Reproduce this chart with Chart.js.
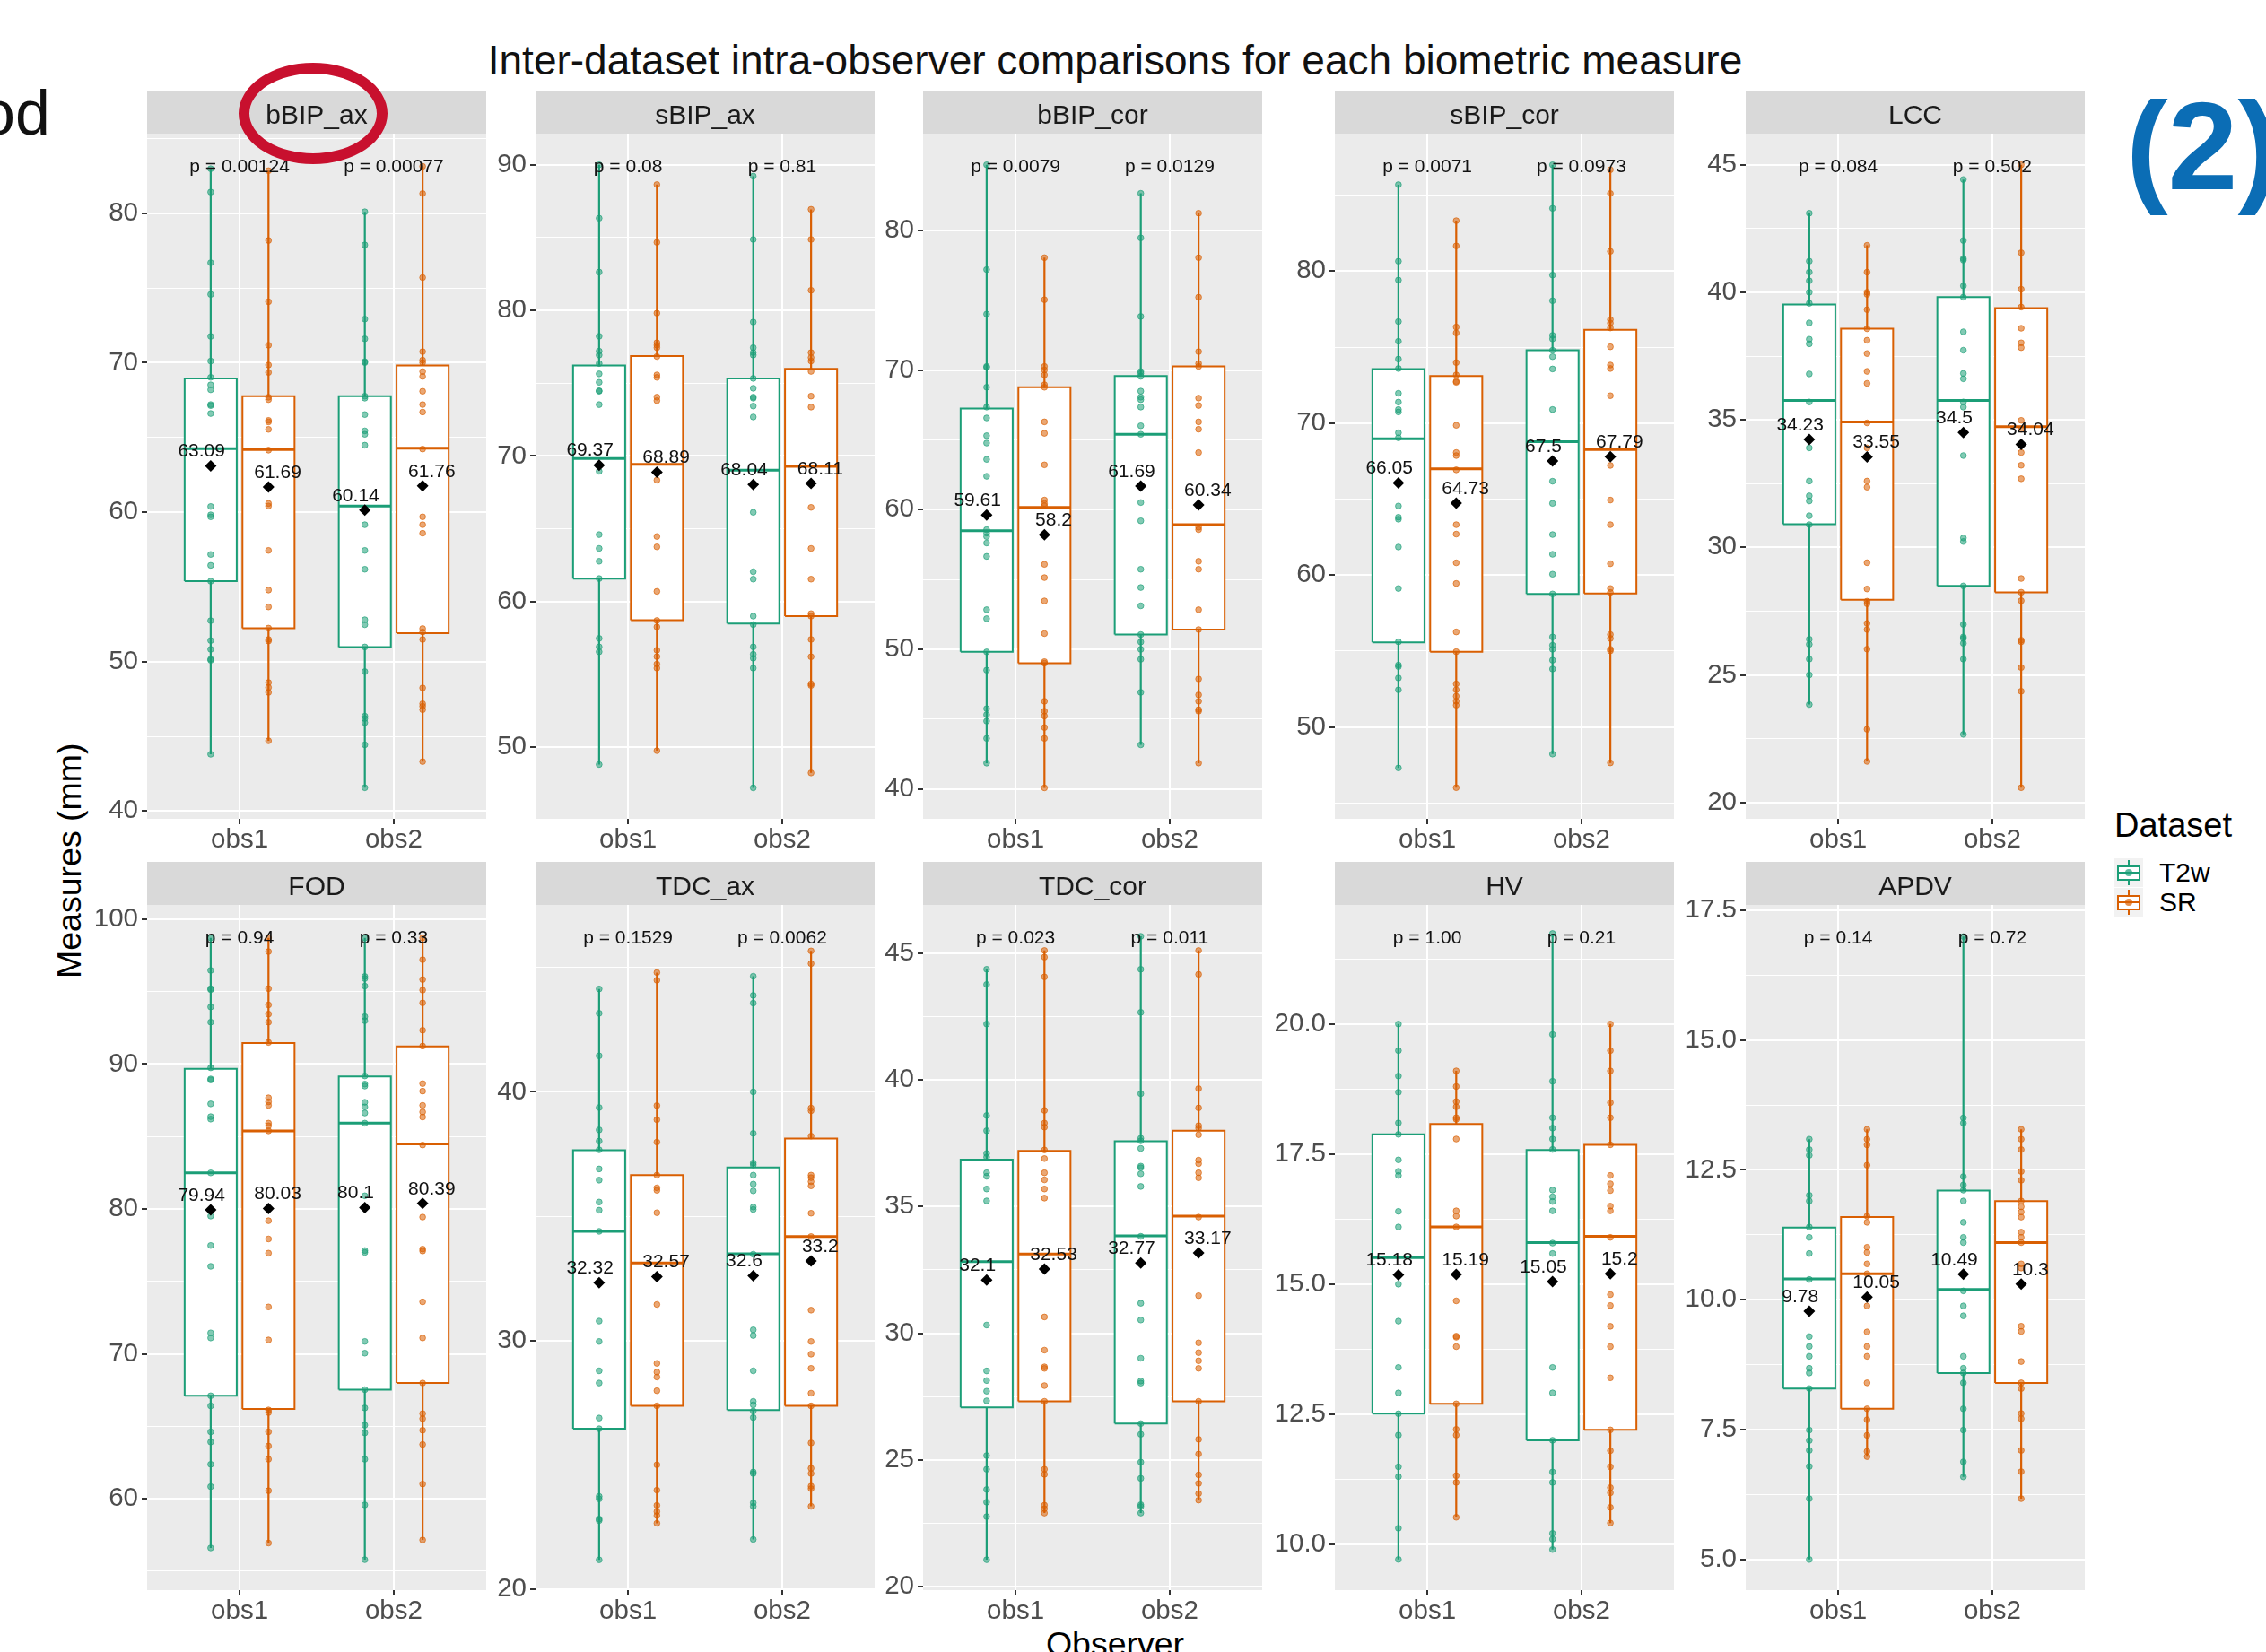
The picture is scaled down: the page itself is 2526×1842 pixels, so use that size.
<!DOCTYPE html>
<html>
<head>
<meta charset="utf-8">
<title>Inter-dataset intra-observer comparisons</title>
<script src="https://cdn.jsdelivr.net/npm/chart.js@4.4.1/dist/chart.umd.min.js"></script>
<style>
  html, body { margin:0; padding:0; background:#ffffff; }
  body { position:relative; width:2526px; height:1842px; overflow:hidden; font-family:"Liberation Sans", Arial, sans-serif; }
  .txt { position:absolute; white-space:nowrap; line-height:1; color:#000; }
  .box { position:absolute; box-sizing:border-box; }
  canvas { position:absolute; }
</style>
</head>
<body>

<div class="txt" style="left:-22px;top:91px;font-size:70px;color:#111;">od</div>
<div class="txt" style="left:243px;top:44px;width:2000px;text-align:center;font-size:46px;color:#111;">Inter-dataset intra-observer comparisons for each biometric measure</div>
<div class="txt" style="left:2370px;top:93px;font-size:140px;font-weight:bold;color:#0B6DB5;">(2)</div>
<div class="txt" style="left:-122px;top:941px;width:400px;text-align:center;font-size:37.5px;transform:rotate(-90deg);">Measures (mm)</div>
<div class="txt" style="left:1043px;top:1815px;width:400px;text-align:center;font-size:37.5px;">Observer</div>

<div id="legend"></div>

<script>
// ---------------- data ----------------
const measures = ['bBIP_ax', 'sBIP_ax', 'bBIP_cor', 'sBIP_cor', 'LCC', 'FOD', 'TDC_ax', 'TDC_cor', 'HV', 'APDV'];
const observers = ['obs1', 'obs2'];
const datasetNames = ['T2w', 'SR'];

// p-values of the T2w vs SR comparison, per observer
const pValues = [
  ['p = 0.00124', 'p = 0.00077'],
  ['p = 0.08', 'p = 0.81'],
  ['p = 0.0079', 'p = 0.0129'],
  ['p = 0.0071', 'p = 0.0973'],
  ['p = 0.084', 'p = 0.502'],
  ['p = 0.94', 'p = 0.33'],
  ['p = 0.1529', 'p = 0.0062'],
  ['p = 0.023', 'p = 0.011'],
  ['p = 1.00', 'p = 0.21'],
  ['p = 0.14', 'p = 0.72']
];

// group order inside each row: obs1/T2w, obs1/SR, obs2/T2w, obs2/SR
const meanValues = [
  [63.09, 61.69, 60.14, 61.76],
  [69.37, 68.89, 68.04, 68.11],
  [59.61, 58.2, 61.69, 60.34],
  [66.05, 64.73, 67.5, 67.79],
  [34.23, 33.55, 34.5, 34.04],
  [79.94, 80.03, 80.1, 80.39],
  [32.32, 32.57, 32.6, 33.2],
  [32.1, 32.53, 32.77, 33.17],
  [15.18, 15.19, 15.05, 15.2],
  [9.78, 10.05, 10.49, 10.3]
];
const lowerQuartiles = [
  [55.38, 52.24, 50.98, 51.91],
  [61.58, 58.73, 58.49, 59.00],
  [49.81, 49.00, 51.05, 51.41],
  [55.56, 54.95, 58.75, 58.78],
  [30.91, 27.95, 28.49, 28.24],
  [67.11, 66.20, 67.53, 67.99],
  [26.45, 27.37, 27.20, 27.37],
  [27.07, 27.31, 26.43, 27.31],
  [12.51, 12.70, 12.00, 12.20],
  [8.29, 7.90, 8.59, 8.40]
];
const medians = [
  [64.25, 64.19, 60.41, 64.28],
  [69.83, 69.42, 69.02, 69.29],
  [58.49, 60.16, 65.40, 58.92],
  [68.97, 66.98, 68.77, 68.25],
  [35.76, 34.92, 35.76, 34.73],
  [82.49, 85.39, 85.92, 84.48],
  [34.39, 33.12, 33.49, 34.18],
  [32.82, 33.12, 33.84, 34.62],
  [15.51, 16.10, 15.80, 15.92],
  [10.40, 10.50, 10.20, 11.10]
];
const upperQuartiles = [
  [68.95, 67.76, 67.76, 69.81],
  [76.21, 76.86, 75.33, 75.98],
  [67.25, 68.77, 69.58, 70.26],
  [73.56, 73.10, 74.79, 76.13],
  [39.52, 38.57, 39.81, 39.38],
  [89.67, 91.45, 89.14, 91.21],
  [37.65, 36.65, 36.96, 38.12],
  [36.85, 37.19, 37.57, 37.99],
  [17.88, 18.08, 17.58, 17.68],
  [11.39, 11.59, 12.10, 11.90]
];

// individual measurements (mm) per group
const bBIP_ax = [
  [82.98, 81.42, 76.69, 74.57, 71.76, 70.11, 69.02, 68.52, 68.19, 67.20, 67.13, 66.60, 60.38, 59.82, 59.69, 57.17, 56.44, 55.38, 52.74, 51.41, 50.82, 50.16, 50.09, 43.80],
  [82.85, 78.18, 74.08, 71.17, 69.85, 69.35, 67.69, 67.53, 66.14, 66.04, 65.54, 64.15, 60.58, 60.41, 57.44, 54.79, 53.66, 52.24, 51.48, 51.38, 48.60, 48.27, 47.94, 44.70],
  [80.10, 77.88, 72.92, 71.60, 70.07, 70.01, 67.76, 67.63, 66.53, 65.44, 65.21, 64.48, 60.20, 59.16, 57.44, 56.18, 52.80, 52.47, 50.98, 49.33, 46.35, 46.19, 45.92, 44.43, 41.56],
  [83.14, 81.32, 75.70, 70.74, 70.17, 70.01, 69.41, 69.08, 68.09, 67.20, 66.70, 64.22, 59.69, 59.16, 58.59, 52.21, 51.98, 51.48, 48.24, 47.18, 47.01, 46.78, 43.31]
];
const sBIP_ax = [
  [90.00, 86.33, 82.63, 78.22, 77.20, 76.93, 76.35, 75.64, 75.06, 74.48, 74.45, 73.53, 69.40, 68.95, 64.60, 63.65, 62.77, 61.58, 57.47, 56.89, 56.55, 48.81],
  [88.64, 84.67, 79.81, 77.78, 77.61, 77.44, 76.83, 75.57, 75.40, 74.04, 73.80, 68.90, 68.34, 64.47, 63.76, 60.70, 58.70, 58.26, 56.66, 56.22, 55.71, 55.43, 49.76],
  [89.22, 84.87, 79.20, 77.44, 77.10, 76.93, 75.33, 74.65, 74.04, 73.97, 73.43, 72.68, 66.13, 62.05, 61.54, 59.00, 58.42, 56.89, 56.38, 56.11, 55.43, 47.21],
  [86.94, 84.87, 81.38, 77.10, 76.76, 76.52, 75.81, 74.11, 73.36, 66.47, 63.65, 61.54, 59.17, 59.00, 57.40, 56.21, 54.35, 54.24, 48.23]
];
const bBIP_cor = [
  [84.71, 77.20, 74.01, 70.26, 70.19, 68.77, 67.35, 66.57, 65.30, 64.77, 63.60, 62.39, 58.57, 58.32, 58.07, 57.61, 56.65, 52.83, 52.19, 49.81, 48.50, 45.74, 45.31, 44.85, 43.61, 41.84],
  [78.05, 75.04, 70.26, 70.01, 69.65, 68.95, 68.77, 66.29, 65.47, 63.21, 60.69, 60.44, 60.27, 56.08, 55.13, 53.46, 51.12, 49.11, 49.00, 46.27, 45.56, 45.21, 44.39, 43.61, 40.07],
  [82.66, 79.47, 73.84, 69.90, 69.76, 69.55, 68.49, 68.06, 67.88, 67.35, 66.01, 65.40, 60.51, 59.20, 55.73, 54.42, 53.11, 51.05, 50.52, 49.99, 49.28, 46.91, 43.15],
  [81.24, 78.05, 75.22, 71.32, 70.47, 70.26, 67.99, 67.46, 66.29, 65.76, 64.09, 58.74, 58.57, 56.30, 55.73, 52.83, 51.41, 47.87, 46.73, 46.27, 45.67, 45.56, 41.84]
];
const sBIP_cor = [
  [85.69, 80.65, 79.41, 76.68, 75.38, 74.21, 73.59, 71.96, 71.38, 70.89, 70.73, 69.36, 69.03, 64.54, 63.80, 63.67, 61.84, 59.11, 55.60, 54.07, 53.97, 53.22, 52.44, 47.30],
  [83.32, 81.66, 76.32, 75.93, 73.98, 73.17, 72.74, 72.68, 69.85, 68.06, 67.86, 66.92, 63.31, 62.69, 60.80, 59.44, 56.25, 54.95, 52.83, 52.44, 52.02, 51.69, 51.43, 46.00],
  [87.00, 84.13, 79.74, 78.05, 75.77, 75.54, 74.79, 74.37, 73.56, 70.89, 67.54, 66.17, 64.71, 62.66, 61.36, 60.05, 58.75, 55.92, 55.37, 55.11, 54.39, 53.81, 48.21],
  [86.67, 85.11, 81.30, 76.81, 76.58, 76.26, 75.02, 73.82, 73.59, 71.80, 67.21, 64.93, 63.31, 60.74, 59.11, 58.85, 56.08, 55.82, 55.11, 55.01, 47.63]
];
const LCC = [
  [43.10, 41.22, 40.79, 40.45, 40.00, 39.57, 38.80, 38.16, 37.98, 36.80, 35.70, 33.90, 32.60, 32.02, 31.82, 31.24, 30.89, 26.40, 26.20, 25.62, 25.00, 23.84],
  [41.84, 40.79, 40.00, 39.92, 39.32, 38.57, 38.12, 37.60, 36.90, 36.43, 34.88, 33.90, 32.60, 32.36, 29.40, 28.37, 27.89, 27.79, 27.02, 26.78, 26.01, 22.87, 21.61],
  [44.42, 42.03, 41.32, 41.26, 40.25, 39.81, 38.45, 37.73, 36.82, 36.61, 35.70, 35.50, 34.50, 33.60, 30.37, 30.23, 28.49, 26.98, 26.49, 26.43, 26.24, 25.62, 22.67],
  [45.00, 41.55, 40.12, 39.42, 38.59, 38.02, 37.83, 34.98, 34.63, 33.72, 33.22, 32.69, 28.78, 28.24, 27.91, 26.36, 26.30, 25.29, 24.36, 20.58]
];
const FOD = [
  [98.70, 96.46, 95.20, 95.13, 93.94, 92.89, 89.74, 88.97, 88.90, 87.25, 86.37, 86.20, 82.49, 79.51, 77.48, 76.04, 71.45, 71.10, 67.11, 66.41, 64.62, 63.92, 62.38, 60.84, 56.61],
  [98.70, 97.76, 95.20, 94.08, 93.45, 92.89, 91.49, 87.67, 87.39, 87.15, 85.92, 85.74, 85.39, 79.19, 77.93, 76.95, 73.24, 70.96, 66.13, 65.95, 64.62, 63.64, 62.73, 60.56, 56.95],
  [98.70, 96.04, 95.90, 95.38, 93.27, 92.99, 89.18, 88.62, 88.48, 87.36, 87.04, 86.62, 85.92, 80.91, 77.13, 77.00, 70.86, 70.05, 67.53, 66.27, 65.08, 64.55, 62.73, 59.58, 55.80],
  [98.70, 97.20, 95.83, 95.10, 94.22, 92.33, 91.24, 88.65, 88.13, 87.15, 86.69, 86.34, 84.41, 79.44, 77.23, 77.10, 73.59, 71.10, 67.99, 65.88, 65.53, 64.73, 63.75, 61.02, 57.16]
];
const TDC_ax = [
  [44.14, 43.16, 41.45, 39.37, 38.47, 38.02, 37.67, 36.90, 36.45, 35.57, 35.24, 34.39, 30.78, 29.96, 28.78, 28.29, 26.88, 26.45, 23.73, 23.63, 22.82, 22.76, 21.18],
  [44.80, 44.49, 39.45, 38.88, 37.98, 36.65, 36.14, 36.04, 35.14, 31.45, 29.08, 28.73, 28.53, 27.98, 27.37, 25.00, 23.98, 23.37, 23.12, 22.96, 22.65],
  [44.65, 43.88, 43.57, 40.00, 38.33, 37.14, 37.06, 36.65, 36.29, 36.02, 35.37, 35.27, 33.47, 30.43, 30.20, 28.78, 27.55, 27.41, 27.16, 26.90, 24.71, 24.65, 23.47, 23.33, 22.00],
  [45.67, 45.16, 39.35, 39.24, 38.22, 36.65, 36.55, 36.39, 36.22, 35.12, 34.18, 31.22, 29.96, 29.45, 28.88, 27.88, 27.37, 25.88, 24.86, 24.65, 24.14, 24.04, 23.33]
];
const TDC_cor = [
  [44.36, 43.76, 42.20, 38.59, 37.99, 37.09, 36.95, 36.33, 36.19, 35.69, 35.22, 30.32, 28.51, 28.13, 27.71, 27.33, 25.17, 24.63, 23.83, 23.33, 22.76, 21.06],
  [45.10, 44.84, 44.06, 38.79, 38.29, 38.13, 37.23, 36.89, 36.33, 36.05, 35.69, 35.33, 30.64, 29.33, 28.67, 28.61, 27.93, 27.31, 24.63, 24.43, 23.21, 23.07, 22.90],
  [45.66, 44.36, 42.66, 39.45, 37.69, 37.59, 37.29, 36.59, 36.53, 36.29, 35.79, 33.82, 31.18, 30.52, 29.01, 28.11, 28.03, 26.43, 26.01, 24.91, 24.27, 23.23, 23.16, 22.90],
  [45.10, 44.16, 39.65, 38.89, 38.19, 38.09, 37.83, 36.83, 36.69, 36.33, 36.13, 34.58, 31.48, 29.62, 29.23, 28.91, 28.61, 27.31, 25.81, 25.23, 24.41, 24.07, 23.67, 23.41]
];
const HV = [
  [20.00, 19.49, 19.00, 18.69, 18.10, 17.88, 17.39, 17.17, 17.09, 16.40, 16.10, 15.17, 15.00, 14.29, 13.40, 12.91, 12.51, 12.10, 11.49, 11.30, 10.31, 9.71],
  [19.10, 18.80, 18.51, 18.41, 18.20, 18.17, 17.79, 16.41, 16.31, 16.10, 15.20, 14.68, 14.00, 13.98, 13.80, 12.70, 12.21, 12.10, 11.32, 11.19, 10.52],
  [21.74, 19.80, 18.90, 18.20, 18.00, 17.79, 17.59, 16.81, 16.68, 16.59, 16.41, 15.79, 15.59, 13.40, 12.91, 12.00, 11.39, 11.19, 10.21, 10.10, 9.90],
  [20.00, 19.49, 19.10, 18.49, 18.20, 17.68, 17.09, 16.93, 16.80, 16.50, 16.41, 15.90, 14.80, 14.59, 14.19, 13.80, 13.20, 12.20, 11.80, 11.49, 11.09, 10.99, 10.71, 10.41]
];
const APDV = [
  [13.09, 12.89, 12.78, 12.01, 11.90, 11.40, 11.20, 10.89, 10.39, 9.29, 9.10, 8.91, 8.68, 8.59, 8.29, 7.49, 7.29, 7.10, 6.79, 6.17, 5.00],
  [13.28, 13.09, 12.98, 12.59, 11.61, 11.49, 11.01, 10.91, 10.69, 10.50, 9.88, 9.38, 9.10, 8.91, 8.40, 7.90, 7.69, 7.39, 7.08, 6.98],
  [16.99, 13.50, 13.40, 12.37, 12.21, 12.11, 11.90, 11.49, 11.20, 11.10, 10.50, 10.17, 9.88, 9.69, 8.91, 8.68, 8.59, 8.40, 7.90, 7.49, 6.88, 6.59],
  [13.28, 13.09, 12.89, 12.47, 12.30, 11.90, 11.79, 11.69, 11.59, 11.30, 11.20, 11.10, 10.69, 10.61, 9.49, 9.39, 8.81, 8.40, 8.29, 7.81, 7.71, 7.10, 6.69, 6.17]
];
const measurements = [bBIP_ax, sBIP_ax, bBIP_cor, sBIP_cor, LCC, FOD, TDC_ax, TDC_cor, HV, APDV];

// y-axis major tick labels per facet
const yMajorTicks = [
  [40, 50, 60, 70, 80],
  [50, 60, 70, 80, 90],
  [40, 50, 60, 70, 80],
  [50, 60, 70, 80],
  [20, 25, 30, 35, 40, 45],
  [60, 70, 80, 90, 100],
  [20, 30, 40],
  [20, 25, 30, 35, 40, 45],
  [10, 12.5, 15, 17.5, 20],
  [5, 7.5, 10, 12.5, 15, 17.5]
];

// ---------------- layout & style ----------------
const yLimits = [
  [39.48, 85.33], [45.08, 92.14], [37.85, 86.94], [43.95, 89.05], [19.36, 46.22],
  [53.70, 100.98], [19.96, 47.52], [19.86, 46.90], [9.12, 22.29], [4.41, 17.60]
];
const yDecimals = [0, 0, 0, 0, 0, 0, 0, 0, 1, 1];

const PANEL_LEFT = [164, 597, 1029, 1488, 1946];
const ROW_TOP = [101, 961];
const PANEL_W = 378, PANEL_H = 764, STRIP_H = 48, AXIS_W = 100, XAXIS_H = 60;
const DODGE = 0.1875, HALF_BOX = 0.169, LABEL_SHIFT = 0.247;
const COLORS = ['#1B9E77', '#D95F02'];
const FONT = '"Liberation Sans", Arial, sans-serif';

Chart.defaults.font.family = FONT;

function rgba(hex, a) {
  const n = parseInt(hex.slice(1), 16);
  return `rgba(${(n >> 16) & 255},${(n >> 8) & 255},${n & 255},${a})`;
}
function groupX(g) {
  return Math.floor(g / 2) + 1 + (g % 2 === 0 ? -DODGE : DODGE);
}
function buildTicks(major, lo, hi) {
  const step = major[1] - major[0];
  const all = major.map(v => ({ v, major: true }));
  for (let k = -1; k < major.length; k++) {
    const v = major[0] + (k + 0.5) * step;
    if (v >= lo && v <= hi) all.push({ v, major: false });
  }
  const last = major[major.length - 1];
  if (last + step * 1.5 <= hi) all.push({ v: last + step * 1.5, major: false });
  return all.sort((a, b) => a.v - b.v);
}

// facet background, strip and text annotations
const facetDecor = {
  id: 'facetDecor',
  beforeDraw(chart, args, opts) {
    const { ctx, chartArea: a } = chart;
    ctx.save();
    ctx.fillStyle = '#EBEBEB';
    ctx.fillRect(a.left, a.top, a.right - a.left, a.bottom - a.top);
    ctx.fillStyle = '#D9D9D9';
    ctx.fillRect(a.left, a.top - STRIP_H, a.right - a.left, STRIP_H);
    ctx.fillStyle = '#1A1A1A';
    ctx.font = '30px ' + FONT;
    ctx.textAlign = 'center';
    ctx.textBaseline = 'alphabetic';
    ctx.fillText(opts.title, (a.left + a.right) / 2, a.top - STRIP_H + 36.5);
    ctx.restore();
  },
  afterDatasetsDraw(chart, args, opts) {
    const { ctx, chartArea: a, scales } = chart;
    const x = scales.x, y = scales.y;
    ctx.save();
    ctx.fillStyle = '#111111';
    ctx.font = '21px ' + FONT;
    ctx.textAlign = 'center';
    ctx.textBaseline = 'middle';
    opts.pLabels.forEach((t, i) => ctx.fillText(t, x.getPixelForValue(i + 1), a.top + 37));
    opts.means.forEach((m, g) => {
      const lx = Math.floor(g / 2) + 1 + (g % 2 === 0 ? -LABEL_SHIFT : LABEL_SHIFT);
      ctx.fillText(String(m), x.getPixelForValue(lx), y.getPixelForValue(m) - 16);
    });
    ctx.restore();
  }
};

function buildFacet(k) {
  const row = Math.floor(k / 5), col = k % 5;
  const canvas = document.createElement('canvas');
  canvas.width = AXIS_W + PANEL_W;
  canvas.height = STRIP_H + PANEL_H + XAXIS_H;
  canvas.style.left = (PANEL_LEFT[col] - AXIS_W) + 'px';
  canvas.style.top = ROW_TOP[row] + 'px';
  canvas.style.width = canvas.width + 'px';
  canvas.style.height = canvas.height + 'px';
  document.body.appendChild(canvas);

  const [lo, hi] = yLimits[k];
  const ticks = buildTicks(yMajorTicks[k], lo, hi);
  const isMajor = v => ticks.some(t => t.major && Math.abs(t.v - v) < 1e-6);

  const datasets = [];
  for (let g = 0; g < 4; g++) {
    const color = COLORS[g % 2];
    const c = groupX(g);
    const pts = measurements[k][g];
    const q1 = lowerQuartiles[k][g], med = medians[k][g], q3 = upperQuartiles[k][g];
    const wLo = Math.min(...pts), wHi = Math.max(...pts);
    datasets.push({
      type: 'line', order: 4, data: [{ x: c, y: wLo }, { x: c, y: wHi }],
      borderColor: color, borderWidth: 2.2, pointRadius: 0, fill: false
    });
    datasets.push({
      type: 'line', order: 3,
      data: [{ x: c - HALF_BOX, y: q1 }, { x: c + HALF_BOX, y: q1 }, { x: c + HALF_BOX, y: q3 }, { x: c - HALF_BOX, y: q3 }, { x: c - HALF_BOX, y: q1 }],
      borderColor: color, borderWidth: 2, borderJoinStyle: 'miter', backgroundColor: '#FFFFFF', fill: 'shape', pointRadius: 0
    });
    datasets.push({
      type: 'line', order: 2, data: [{ x: c - HALF_BOX, y: med }, { x: c + HALF_BOX, y: med }],
      borderColor: color, borderWidth: 3, pointRadius: 0, fill: false
    });
    datasets.push({
      type: 'scatter', order: 1, data: pts.map(v => ({ x: c, y: v })),
      pointRadius: 3.3, backgroundColor: rgba(color, 0.55), borderColor: rgba(color, 0.65), borderWidth: 1
    });
    datasets.push({
      type: 'scatter', order: 0, data: [{ x: c, y: meanValues[k][g] }],
      pointStyle: 'rectRot', pointRadius: 6.5, backgroundColor: '#000000', borderWidth: 0
    });
  }

  new Chart(canvas, {
    type: 'scatter',
    data: { datasets },
    plugins: [facetDecor],
    options: {
      responsive: false,
      animation: false,
      devicePixelRatio: 1,
      layout: { autoPadding: false, padding: { top: STRIP_H, left: 0, right: 0, bottom: 0 } },
      events: [],
      plugins: {
        legend: { display: false },
        tooltip: { enabled: false },
        filler: { drawTime: 'beforeDatasetDraw' },
        facetDecor: { title: measures[k], pLabels: pValues[k], means: meanValues[k] }
      },
      scales: {
        x: {
          type: 'linear', min: 0.4, max: 2.6, bounds: 'data',
          afterBuildTicks: s => { s.ticks = observers.map((o, i) => ({ value: i + 1 })); },
          afterFit: s => { s.height = XAXIS_H; },
          ticks: {
            callback: v => observers[Math.round(v) - 1],
            color: '#4D4D4D', font: { size: 29.5, family: FONT }, padding: 0,
            maxRotation: 0, autoSkip: false
          },
          grid: { color: '#FFFFFF', lineWidth: 2, drawTicks: true, tickLength: 6, tickWidth: 2, tickColor: '#333333' },
          border: { display: false }
        },
        y: {
          type: 'linear', min: lo, max: hi, bounds: 'data',
          afterBuildTicks: s => { s.ticks = ticks.map(t => ({ value: t.v })); },
          afterFit: s => { s.width = AXIS_W; },
          ticks: {
            callback: v => isMajor(v) ? v.toFixed(yDecimals[k]) : '',
            color: '#4D4D4D', font: { size: 29.5, family: FONT }, padding: 4, autoSkip: false
          },
          grid: {
            color: '#FFFFFF',
            lineWidth: ctx => (ctx.tick && isMajor(ctx.tick.value)) ? 2 : 1,
            drawTicks: true, tickLength: 6, tickWidth: 2,
            tickColor: ctx => (ctx.tick && isMajor(ctx.tick.value)) ? '#333333' : 'rgba(0,0,0,0)'
          },
          border: { display: false }
        }
      }
    }
  });
}

measures.forEach((m, k) => buildFacet(k));

// legend for the Dataset fill
(function buildLegend() {
  const host = document.getElementById('legend');
  const add = (html) => host.insertAdjacentHTML('beforeend', html);
  add('<div class="txt" style="left:2357px;top:901px;font-size:38px;">Dataset</div>');
  datasetNames.forEach((name, i) => {
    const top = 957 + i * 33;
    const col = COLORS[i];
    add(`<div class="box" style="left:2357px;top:${top}px;width:32px;height:32px;background:#F2F2F2;"></div>`);
    add(`<div class="box" style="left:2372px;top:${top + 2}px;width:2px;height:28px;background:${col};"></div>`);
    add(`<div class="box" style="left:2360px;top:${top + 8}px;width:26px;height:17px;border:2px solid ${col};background:#FFFFFF;"></div>`);
    add(`<div class="box" style="left:2360px;top:${top + 15}px;width:26px;height:2px;background:${col};"></div>`);
    add(`<div class="box" style="left:2369px;top:${top + 12}px;width:8px;height:8px;border-radius:50%;background:${rgba(col, 0.7)};"></div>`);
    add(`<div class="txt" style="left:2407px;top:${top + 1}px;font-size:30px;">${name}</div>`);
  });
})();
</script>

<div class="box" style="left:266px;top:70px;width:166px;height:113px;border:12px solid #C8102E;border-radius:50%;z-index:5;"></div>
</body>
</html>
